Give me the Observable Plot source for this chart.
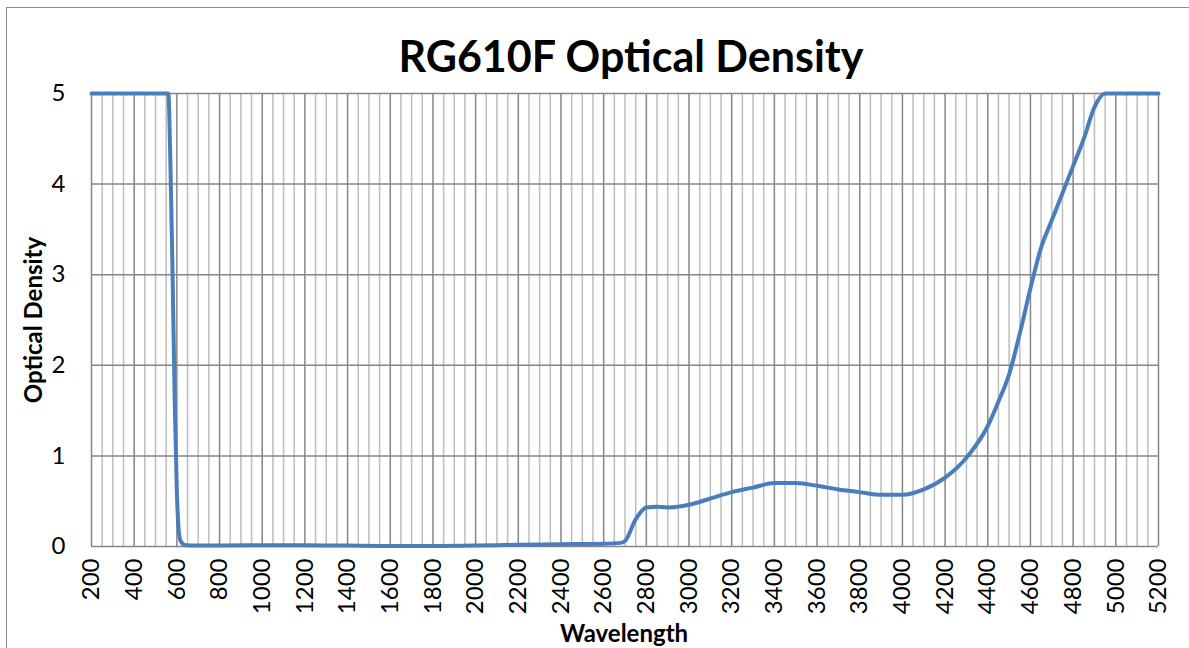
<!DOCTYPE html>
<html>
<head>
<meta charset="utf-8">
<script src="https://cdn.jsdelivr.net/npm/d3@7"></script>
<script src="https://cdn.jsdelivr.net/npm/@observablehq/plot@0.6"></script>
<style>
  html, body { margin: 0; padding: 0; background: #fff; }
  #wrap { position: relative; width: 1189px; height: 648px; overflow: hidden; font-family: Lato, "Open Sans", sans-serif; }
  #frame { position: absolute; left: 6px; top: 7px; width: 1200px; height: 700px; border-left: 1.5px solid #8c8c8c; border-top: 1.5px solid #8c8c8c; }
  #title { position: absolute; left: 0; width: 1262px; top: 34px; text-align: center; font-weight: bold; font-size: 43px; color: #000; line-height: 1; }
  #ylab { position: absolute; left: 32px; top: 320px; transform: translate(-50%, -50%) rotate(-90deg); font-weight: bold; font-size: 24px; white-space: nowrap; }
  #xlab { position: absolute; left: 624px; top: 632px; transform: translate(-50%, -50%); font-weight: bold; font-size: 24px; white-space: nowrap; }
  #chart { position: absolute; left: 0; top: 0; }
  #chart svg text { font-family: Lato, "Open Sans", sans-serif; }
</style>
</head>
<body>
<div id="wrap">
  <div id="frame"></div>
  <div id="chart"></div>
  <div id="title">RG610F Optical Density</div>
  <div id="ylab">Optical Density</div>
  <div id="xlab">Wavelength</div>
</div>
<script>
// Data
const wavelength = [200, 300, 400, 500, 560, 570, 580, 590, 600, 610, 620, 640, 700, 800, 1000, 1200, 1400, 1600, 1800, 2000, 2200, 2400, 2600, 2680, 2700, 2750, 2800, 2850, 2900, 3000, 3100, 3200, 3300, 3400, 3500, 3600, 3700, 3800, 3900, 4000, 4100, 4200, 4300, 4400, 4450, 4500, 4550, 4600, 4650, 4700, 4750, 4800, 4850, 4900, 4950, 5000, 5100, 5200];
const opticalDensity = [5, 5, 5, 5, 5, 4.2, 3.0, 1.6, 0.6, 0.15, 0.05, 0.015, 0.01, 0.012, 0.015, 0.015, 0.01, 0.005, 0.005, 0.01, 0.02, 0.025, 0.03, 0.04, 0.06, 0.3, 0.43, 0.44, 0.43, 0.46, 0.53, 0.6, 0.65, 0.7, 0.7, 0.67, 0.63, 0.6, 0.57, 0.57, 0.63, 0.76, 0.98, 1.33, 1.6, 1.9, 2.35, 2.85, 3.3, 3.6, 3.9, 4.2, 4.5, 4.85, 5.0, 5, 5, 5];

const xTickLabels = [200, 400, 600, 800, 1000, 1200, 1400, 1600, 1800, 2000, 2200, 2400, 2600, 2800, 3000, 3200, 3400, 3600, 3800, 4000, 4200, 4400, 4600, 4800, 5000, 5200];
const yTickLabels = [0, 1, 2, 3, 4, 5];
const xMinorGrid = d3.range(200, 5201, 50).filter(v => !xTickLabels.includes(v));

const data = wavelength.map((w, i) => ({w, od: opticalDensity[i]}));

const chart = Plot.plot({
  width: 1189,
  height: 648,
  marginLeft: 91,
  marginRight: 31,
  marginTop: 93,
  marginBottom: 102,
  style: {fontSize: "24px", color: "#000", background: "transparent"},
  x: {domain: [200, 5200]},
  y: {domain: [0, 5]},
  marks: [
    Plot.ruleX(xMinorGrid, {stroke: "#bdbdbd", strokeWidth: 1.5}),
    Plot.ruleX(xTickLabels, {stroke: "#868686", strokeWidth: 1.5}),
    Plot.ruleY(yTickLabels, {stroke: "#868686", strokeWidth: 1.5}),
    Plot.line(data, {x: "w", y: "od", stroke: "#4a7ebb", strokeWidth: 4, curve: "monotone-x"}),
    Plot.axisX({ticks: xTickLabels, tickSize: 0, tickPadding: 12, tickRotate: -90, tickFormat: d => String(d), label: null, fill: "#000"}),
    Plot.axisY({ticks: yTickLabels, tickSize: 0, tickPadding: 26, tickFormat: d => String(d), label: null, fill: "#000"})
  ]
});
document.getElementById("chart").appendChild(chart);
</script>
</body>
</html>
